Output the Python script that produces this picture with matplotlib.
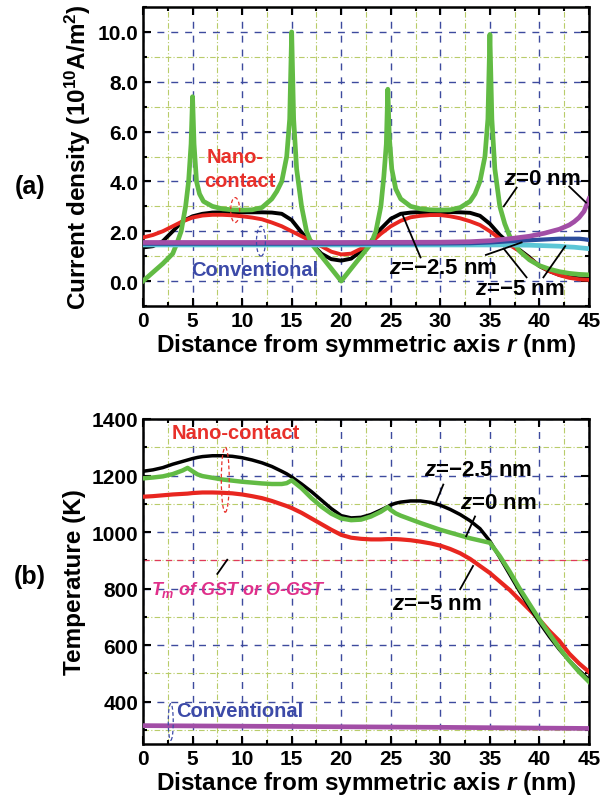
import numpy as np
import matplotlib
matplotlib.use('Agg')
import matplotlib.pyplot as plt
from matplotlib.patches import Ellipse
from matplotlib.ticker import MultipleLocator, FormatStrFormatter

plt.rcParams['font.family'] = ['Liberation Sans', 'DejaVu Sans']
plt.rcParams['font.weight'] = 'bold'

# ---- panel (a): current density, nano-contact ----
r_green_a = [0, 1, 2, 3, 3.5, 3.85, 4.3, 4.6, 4.85, 5, 5.15, 5.4, 5.7, 6.1, 7, 8, 9, 10, 11, 12, 13, 13.5,
             14, 14.5, 14.8, 15, 15.2, 15.5, 16, 16.5, 17, 18, 19, 20, 21, 22, 23, 23.5, 24, 24.3, 24.55,
             24.7, 24.85, 25.1, 25.5, 26, 27, 28, 29, 30, 31, 32, 33, 33.5, 34, 34.5, 34.8, 35, 35.2, 35.5,
             36, 36.5, 37, 38, 39, 40, 41, 42, 43, 44, 45]
j_green_a = [0.0, 0.35, 0.7, 1.1, 1.6, 2.0, 3.0, 4.0, 5.5, 7.4, 5.5, 4.0, 3.5, 3.2, 3.0, 2.9, 2.86, 2.85,
             2.86, 2.95, 3.3, 3.6, 4.0, 5.0, 6.5, 10.0, 6.5, 4.5, 3.0, 2.0, 1.5, 1.0, 0.5, 0.0, 0.5, 1.0,
             1.5, 2.0, 3.0, 4.2, 5.5, 7.7, 5.8, 4.5, 3.7, 3.3, 3.0, 2.9, 2.86, 2.85, 2.86, 2.95, 3.2, 3.5,
             4.0, 5.0, 6.5, 9.9, 6.5, 4.5, 3.0, 2.3, 1.8, 1.2, 0.85, 0.62, 0.48, 0.38, 0.31, 0.27, 0.25]

r_a = [0, 1, 2, 3, 4, 5, 6, 7, 8, 9, 10, 11, 12, 13, 14, 15, 16, 17, 18, 19, 20, 21, 22, 23,
       24, 25, 26, 27, 28, 29, 30, 31, 32, 33, 34, 35, 36, 37, 38, 39, 40, 41, 42, 43, 44, 45]
j_black_a = [1.35, 1.4, 1.6, 2.0, 2.4, 2.6, 2.7, 2.75, 2.76, 2.76, 2.76, 2.76, 2.76, 2.75, 2.7, 2.45,
             1.95, 1.5, 1.1, 0.88, 0.82, 0.9, 1.2, 1.6, 2.1, 2.5, 2.7, 2.75, 2.77, 2.77, 2.77, 2.77,
             2.76, 2.74, 2.62, 2.3, 1.85, 1.5, 1.25, 0.95, 0.6, 0.4, 0.25, 0.16, 0.11, 0.09]
j_red_a = [1.75, 1.85, 2.0, 2.2, 2.4, 2.55, 2.63, 2.66, 2.66, 2.64, 2.6, 2.55, 2.48, 2.35, 2.2, 2.0,
           1.8, 1.6, 1.4, 1.18, 1.07, 1.1, 1.3, 1.55, 1.9, 2.2, 2.42, 2.56, 2.62, 2.65, 2.65, 2.6,
           2.52, 2.4, 2.25, 2.0, 1.7, 1.45, 1.2, 0.9, 0.62, 0.4, 0.24, 0.13, 0.07, 0.05]

# ---- panel (a): current density, conventional ----
r_conv_a = [0, 10, 20, 30, 33, 35, 37, 39, 40.5, 42, 43, 43.5, 44, 44.5, 45]
j_purple_a = [1.55, 1.55, 1.55, 1.56, 1.58, 1.62, 1.7, 1.8, 1.92, 2.08, 2.25, 2.38, 2.55, 2.8, 3.3]
j_blue_a = [1.5, 1.5, 1.5, 1.51, 1.52, 1.55, 1.6, 1.64, 1.67, 1.7, 1.7, 1.7, 1.7, 1.68, 1.65]
j_cyan_a = [1.45, 1.45, 1.45, 1.45, 1.45, 1.45, 1.45, 1.44, 1.42, 1.4, 1.37, 1.36, 1.34, 1.32, 1.3]

# ---- panel (b): temperature ----
r_b = [0, 1, 2, 3, 4, 4.5, 5, 5.5, 6, 7, 8, 9, 10, 11, 12, 13, 14, 14.5, 15, 16, 17, 18, 19, 20, 21, 22,
       23, 24, 24.7, 25, 25.5, 26, 27, 28, 29, 30, 31, 32, 33, 34, 35, 36, 37, 38, 39, 40, 41, 42, 43, 44, 45]
t_black_b = [1215, 1220, 1228, 1240, 1250, 1255, 1260, 1264, 1267, 1270, 1270, 1268, 1263, 1255, 1245,
             1232, 1215, 1206, 1195, 1170, 1143, 1113, 1083, 1058, 1050, 1052, 1062, 1078, 1090, 1096,
             1102, 1106, 1110, 1110, 1105, 1095, 1080, 1062, 1040, 1012, 968, 910, 850, 790, 735, 680,
             630, 585, 545, 510, 478]
t_green_b = [1190, 1193, 1197, 1205, 1218, 1227, 1215, 1204, 1198, 1192, 1186, 1182, 1178, 1175, 1172,
             1170, 1170, 1173, 1183, 1155, 1120, 1090, 1065, 1048, 1042, 1044, 1055, 1072, 1088, 1078,
             1066, 1058, 1045, 1032, 1020, 1008, 998, 988, 978, 970, 962, 915, 860, 800, 745, 690, 640,
             590, 545, 505, 470]
t_red_b = [1125, 1127, 1130, 1133, 1135, 1136, 1138, 1139, 1140, 1140, 1139, 1137, 1133, 1127, 1120,
           1110, 1098, 1092, 1085, 1068, 1048, 1028, 1008, 990, 980, 976, 974, 974, 975, 975, 975, 974,
           971, 966, 960, 952, 940, 925, 905, 880, 855, 825, 795, 760, 725, 690, 650, 615, 570, 535, 505]
r_conv_b = [0, 15, 30, 45]
t_purple_b = [315, 312, 309, 305]

t_melt = 900

major_grid = dict(color='#3d4a9e', linestyle=(0, (5, 5)), linewidth=1.0)
minor_grid = dict(color='#b9cc6a', linestyle=(0, (5, 2, 1, 2)), linewidth=0.8)

plt.rcParams['mathtext.fontset'] = 'custom'
plt.rcParams['mathtext.it'] = 'Liberation Sans:bold:italic'
plt.rcParams['mathtext.bf'] = 'Liberation Sans:bold'
plt.rcParams['mathtext.rm'] = 'Liberation Sans:bold'

LAB = 17.5
TICK = 15
NOTE = 14.5
ZLAB = 16


def style_axes(ax):
    ax.set_xlim(0, 45)
    ax.xaxis.set_major_locator(MultipleLocator(5))
    ax.xaxis.set_minor_locator(MultipleLocator(2.5))
    ax.tick_params(which='both', direction='in', top=True, right=True, width=1.5, labelsize=TICK)
    ax.tick_params(which='major', length=6)
    ax.tick_params(which='minor', length=3)
    ax.grid(which='major', **major_grid)
    ax.grid(which='minor', **minor_grid)
    ax.set_axisbelow(True)
    for s in ax.spines.values():
        s.set_linewidth(1.8)
    for lab in ax.get_xticklabels() + ax.get_yticklabels():
        lab.set_fontweight('bold')
    ax.set_xlabel('Distance from symmetric axis $r$ (nm)', fontsize=LAB, fontweight='bold', labelpad=1)


fig = plt.figure(figsize=(6.04, 8.04), dpi=100)

# ================= (a) =================
ax1 = fig.add_axes([143 / 604, 1 - 307 / 804, 446 / 604, 299 / 804])
ax1.set_ylim(-1, 11)
ax1.yaxis.set_major_locator(MultipleLocator(2))
ax1.yaxis.set_minor_locator(MultipleLocator(1))
ax1.yaxis.set_major_formatter(FormatStrFormatter('%.1f'))
style_axes(ax1)
ax1.set_ylabel('Current density (10$^{10}$A/m$^2$)', fontsize=LAB, fontweight='bold', labelpad=3)

ax1.plot(r_a, j_black_a, color='black', lw=2.8, zorder=3)
ax1.plot(r_a, j_red_a, color='#e8261f', lw=2.8, zorder=3)
ax1.plot(r_green_a, j_green_a, color='#62bb44', lw=3.4, zorder=4)
ax1.plot(r_conv_a, j_cyan_a, color='#5cc6d6', lw=3.4, zorder=5)
ax1.plot(r_conv_a, j_blue_a, color='#2b4c9c', lw=3.0, zorder=5)
ax1.plot(r_conv_a, j_purple_a, color='#a24ea6', lw=3.4, zorder=6)

ax1.text(9.3, 5.0, 'Nano-', color='#e8302a', fontsize=NOTE, ha='center', va='center', zorder=7)
ax1.text(9.8, 4.05, 'contact', color='#e8302a', fontsize=NOTE, ha='center', va='center', zorder=7)
ax1.add_patch(Ellipse((9.3, 2.85), 0.9, 1.0, fill=False, ec='#e8302a', ls=(0, (3, 2)), lw=0.9, zorder=7))
ax1.add_patch(Ellipse((11.9, 1.6), 0.9, 1.2, fill=False, ec='#3c4aa8', ls=(0, (3, 2)), lw=0.9, zorder=7))
ax1.text(11.3, 0.45, 'Conventional', color='#3c4aa8', fontsize=NOTE, ha='center', va='center', zorder=7)

ax1.text(40.3, 4.1, '$z$=0 nm', fontsize=ZLAB, ha='center', va='center', zorder=8)
ax1.plot([37.7, 36.4], [3.75, 3.0], color='black', lw=1.3, zorder=8)
ax1.plot([43.0, 44.7], [3.8, 3.15], color='black', lw=1.3, zorder=8)
ax1.text(30.3, 0.55, '$z$=\u22122.5 nm', fontsize=ZLAB, ha='center', va='center', zorder=8)
ax1.plot([28.0, 26.2], [0.95, 2.65], color='black', lw=1.3, zorder=8)
ax1.plot([34.6, 38.2], [1.05, 1.55], color='black', lw=1.3, zorder=8)
ax1.text(38.0, -0.3, '$z$=\u22125 nm', fontsize=ZLAB, ha='center', va='center', zorder=8)
ax1.plot([38.7, 36.4], [0.15, 1.3], color='black', lw=1.3, zorder=8)
ax1.plot([40.4, 42.6], [0.15, 1.4], color='black', lw=1.3, zorder=8)

fig.text(30 / 604, 1 - 187 / 804, '(a)', fontsize=18, fontweight='bold', ha='center', va='center')

# ================= (b) =================
ax2 = fig.add_axes([143 / 604, 1 - 745 / 804, 446 / 604, 325 / 804])
ax2.set_ylim(250, 1400)
ax2.yaxis.set_major_locator(MultipleLocator(200))
ax2.yaxis.set_minor_locator(MultipleLocator(100))
style_axes(ax2)
ax2.set_ylabel('Temperature (K)', fontsize=LAB, fontweight='bold', labelpad=4)

ax2.axhline(t_melt, color='#e03a5a', ls=(0, (5, 4)), lw=0.9, zorder=2)
ax2.plot(r_conv_b, t_purple_b, color='#a24ea6', lw=3.4, zorder=5)
ax2.plot(r_b, t_red_b, color='#e8261f', lw=3.0, zorder=3)
ax2.plot(r_b, t_black_b, color='black', lw=2.5, zorder=3)
ax2.plot(r_b, t_green_b, color='#62bb44', lw=3.2, zorder=4)

ax2.text(9.4, 1352, 'Nano-contact', color='#e8302a', fontsize=NOTE, ha='center', va='center', zorder=7)
ax2.add_patch(Ellipse((8.3, 1185), 0.8, 230, fill=False, ec='#e8302a', ls=(0, (3, 2)), lw=0.9, zorder=7))
ax2.text(9.8, 370, 'Conventional', color='#3c4aa8', fontsize=NOTE, ha='center', va='center', zorder=7)
ax2.add_patch(Ellipse((2.8, 328), 0.5, 130, fill=False, ec='#3c4aa8', ls=(0, (3, 2)), lw=0.9, zorder=7))
ax2.text(0.8, 800, '$T_m$ of GST or O-GST', color='#e0308a', fontsize=13, style='italic',
         ha='left', va='center', zorder=7)
ax2.plot([7.5, 8.5], [852, 902], color='black', lw=1.3, zorder=8)

ax2.text(33.8, 1222, '$z$=\u22122.5 nm', fontsize=ZLAB, ha='center', va='center', zorder=8)
ax2.plot([30.3, 29.5], [1168, 1100], color='black', lw=1.3, zorder=8)
ax2.text(35.9, 1105, '$z$=0 nm', fontsize=ZLAB, ha='center', va='center', zorder=8)
ax2.plot([33.5, 32.6], [1055, 985], color='black', lw=1.3, zorder=8)
ax2.text(29.7, 748, '$z$=\u22125 nm', fontsize=ZLAB, ha='center', va='center', zorder=8)
ax2.plot([32.0, 33.3], [798, 880], color='black', lw=1.3, zorder=8)

fig.text(30 / 604, 1 - 577 / 804, '(b)', fontsize=18, fontweight='bold', ha='center', va='center')

fig.savefig('out.png', dpi=100)
